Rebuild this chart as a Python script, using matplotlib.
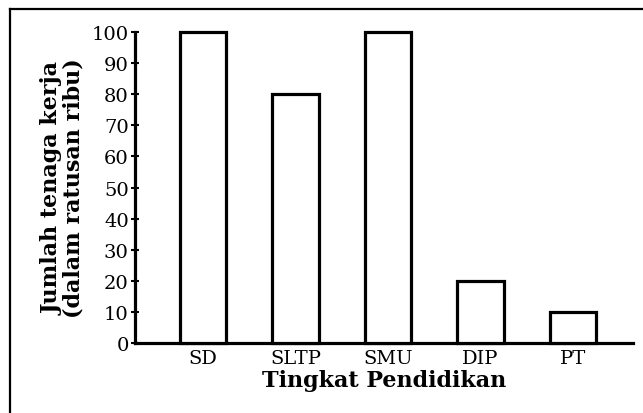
import matplotlib
matplotlib.use("Agg")
import matplotlib.pyplot as plt
from matplotlib.lines import Line2D

categories = ["SD", "SLTP", "SMU", "DIP", "PT"]
values = [100, 80, 100, 20, 10]
yticks = [0, 10, 20, 30, 40, 50, 60, 70, 80, 90, 100]

plt.rcParams['font.family'] = ['DejaVu Serif']

fig = plt.figure(figsize=(6.43, 4.14), dpi=100)
ax = fig.add_axes([135/643, 1-344/414, (633-135)/643, (344-33)/414])

x = list(range(len(categories)))
bars = ax.bar(x, values, width=0.5, color="white", edgecolor="black", linewidth=2.3, zorder=3)
for b in bars:
    b.set_clip_on(False)

ax.set_xlim(-0.735, 4.65)
ax.set_ylim(0, 100)
ax.set_xticks(x)
ax.set_xticklabels(categories, fontsize=14)
ax.set_yticks(yticks)
ax.set_yticklabels([str(t) for t in yticks], fontsize=14)
ax.tick_params(axis='x', length=0, pad=4)
ax.tick_params(axis='y', direction='inout', length=6, width=1.5, pad=1.5)

for s in ['top', 'right']:
    ax.spines[s].set_visible(False)
for s in ['left', 'bottom']:
    ax.spines[s].set_linewidth(2.3)

ax.set_xlabel("Tingkat Pendidikan", fontsize=16, fontweight='bold', labelpad=2)
ax.set_ylabel("Jumlah tenaga kerja\n(dalam ratusan ribu)", fontsize=16, fontweight='bold', labelpad=5, linespacing=0.95)

# outer frame (top and left edges)
fig.add_artist(Line2D([10/643, 1], [1-10/414, 1-10/414], transform=fig.transFigure, color='black', linewidth=1.6))
fig.add_artist(Line2D([10/643, 10/643], [0, 1-10/414], transform=fig.transFigure, color='black', linewidth=1.6))

fig.savefig("out.png", dpi=100)
